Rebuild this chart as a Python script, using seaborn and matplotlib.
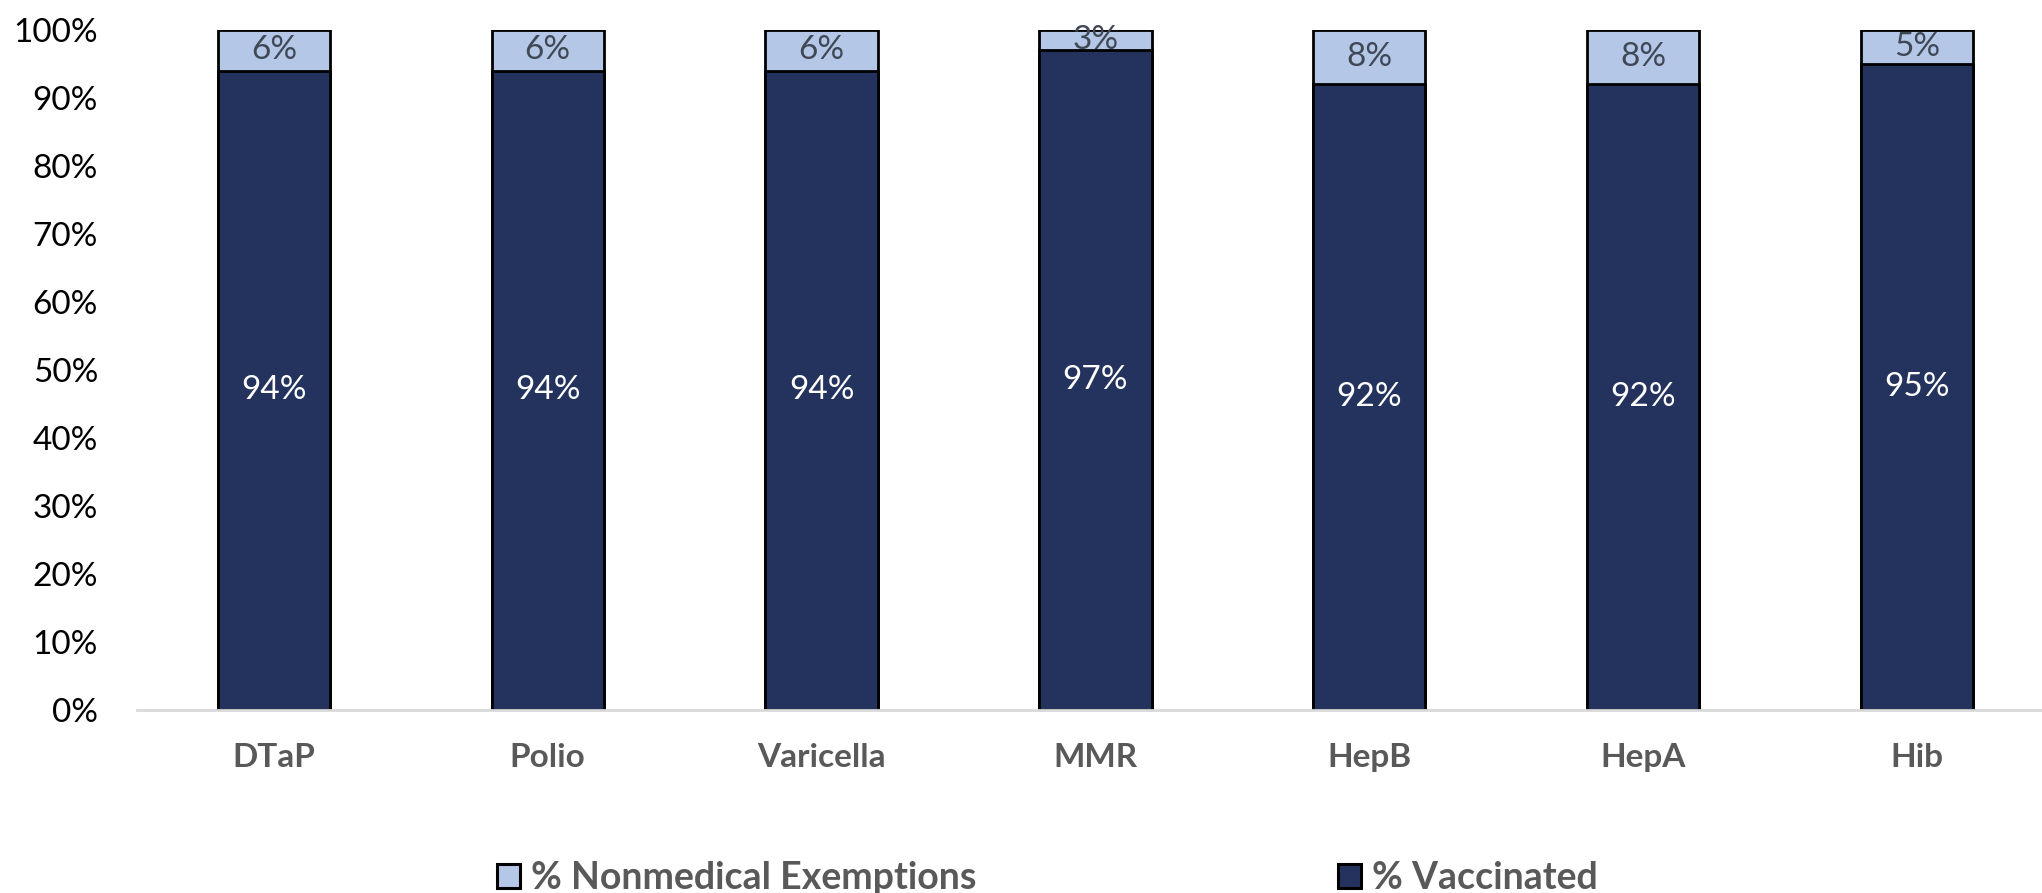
import matplotlib
matplotlib.use("Agg")
import matplotlib.pyplot as plt
import seaborn as sns
import pandas as pd
from matplotlib.patches import Patch

vaccines = ["DTaP", "Polio", "Varicella", "MMR", "HepB", "HepA", "Hib"]
vaccinated = [94, 94, 94, 97, 92, 92, 95]
nonmedical = [6, 6, 6, 3, 8, 8, 5]
y_ticks = [0, 10, 20, 30, 40, 50, 60, 70, 80, 90, 100]

dark = "#24335E"
light = "#B4C7E7"

sns.set_theme(style="white")
plt.rcParams["font.family"] = ["Lato", "DejaVu Sans"]

df = pd.DataFrame({"vaccine": vaccines, "vacc": vaccinated, "nonmed": nonmedical})
df["total"] = df["vacc"] + df["nonmed"]

W, H = 2042, 893
fig = plt.figure(figsize=(W / 100, H / 100), dpi=100)
ax = fig.add_axes([137 / W, 1 - 710 / H, (W - 137) / W, 680 / H])

sns.barplot(data=df, x="vaccine", y="total", color=light, saturation=1,
            width=0.41, edgecolor="black", linewidth=2, ax=ax)
sns.barplot(data=df, x="vaccine", y="vacc", color=dark, saturation=1,
            width=0.41, edgecolor="black", linewidth=2, ax=ax)

for i, (v, n) in enumerate(zip(vaccinated, nonmedical)):
    ax.text(i, v / 2, f"{v}%", ha="center", va="center", color="white",
            fontsize=24)
    ax.text(i, v + n / 2, f"{n}%", ha="center", va="center", color="#404856",
            fontsize=24)

ax.set_ylim(0, 100)
ax.set_xlim(-0.5, 6.457)
ax.set_yticks(y_ticks)
ax.set_yticklabels([f"{t}%" for t in y_ticks], fontsize=24, color="black")
ax.tick_params(axis="x", labelsize=24, colors="#595959", pad=24, length=0)
ax.tick_params(axis="y", length=0, pad=28)
for lbl in ax.get_xticklabels():
    lbl.set_fontweight("bold")
ax.set_xlabel("")
ax.set_ylabel("")
for s in ["top", "right", "left"]:
    ax.spines[s].set_visible(False)
ax.spines["bottom"].set_color("#D9D9D9")
ax.spines["bottom"].set_linewidth(2)

entries = [(light, "% Nonmedical Exemptions", 497), (dark, "% Vaccinated", 1338)]
for col, lab, x0 in entries:
    leg = fig.legend([Patch(facecolor=col, edgecolor="black", linewidth=2.2)], [lab],
                     loc="center left", bbox_to_anchor=(x0 / W, 1 - 878 / H),
                     frameon=False, borderpad=0, borderaxespad=0,
                     handlelength=0.6, handleheight=0.6, handletextpad=0.3,
                     prop={"size": 27, "weight": "bold"})
    for t in leg.get_texts():
        t.set_color("#595959")

fig.savefig("out.png", dpi=100)
